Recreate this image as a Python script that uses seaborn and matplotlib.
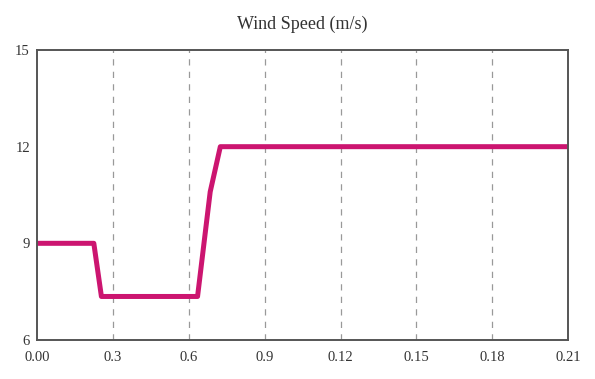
import matplotlib
matplotlib.use("Agg")
import matplotlib.pyplot as plt
import seaborn as sns
import pandas as pd

time_s = [0.0, 0.0225, 0.0255, 0.0635, 0.0685, 0.0725, 0.21]
wind_speed = [9.0, 9.0, 7.35, 7.35, 10.6, 12.0, 12.0]
x_ticks = [0.00, 0.03, 0.06, 0.09, 0.12, 0.15, 0.18, 0.21]
x_tick_labels = ["0.00", "0.3", "0.6", "0.9", "0.12", "0.15", "0.18", "0.21"]
y_ticks = [6, 9, 12, 15]
title = "Wind Speed (m/s)"

sns.set_theme(style="white")
plt.rcParams["font.family"] = ["Liberation Serif", "DejaVu Serif"]

df = pd.DataFrame({"t": time_s, "v": wind_speed})

fig = plt.figure(figsize=(5.95, 3.79), dpi=100)
ax = fig.add_axes([0.062, 0.103, 0.893, 0.765])

sns.lineplot(data=df, x="t", y="v", ax=ax, color="#CC1570", linewidth=3.6,
             estimator=None, sort=False)

ax.set_xlim(0, 0.21)
ax.set_ylim(6, 15)
ax.set_xticks(x_ticks)
ax.set_xticklabels(x_tick_labels, fontsize=10.5, color="#333333")
ax.set_yticks(y_ticks)
ax.set_yticklabels([str(v) for v in y_ticks], fontsize=10.5, color="#333333")
ax.set_xlabel("")
ax.set_ylabel("")
ax.set_title(title, fontsize=13, color="#333333", pad=15)

for xv in x_ticks[1:-1]:
    ax.axvline(xv, color="#999999", linestyle=(0, (5, 5)), linewidth=0.9, zorder=0)

for s in ax.spines.values():
    s.set_color("#555555")
    s.set_linewidth(1.4)

ax.tick_params(axis="y", length=3, width=1, color="#555555", pad=2)
ax.tick_params(axis="x", length=0, pad=8)

fig.savefig("out.png", dpi=100)
